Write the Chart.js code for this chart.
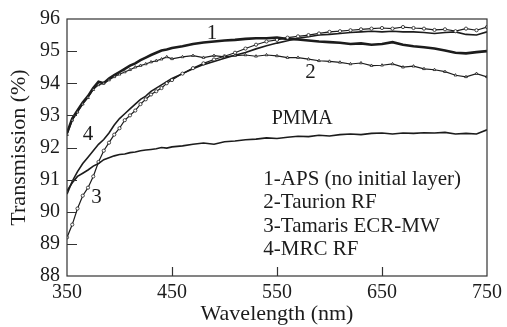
<!DOCTYPE html>
<html>
<head>
<meta charset="utf-8">
<script src="https://cdn.jsdelivr.net/npm/chart.js@4/dist/chart.umd.min.js"></script>
<style>
  html, body { margin: 0; padding: 0; background: #fff; }
  #wrap { width: 507px; height: 327px; }
</style>
</head>
<body>
<div id="wrap"><canvas id="chartTrans"></canvas></div>
<script>
// wavelength grid (nm)
const wavelengths = [350, 355, 360, 365, 370, 375, 380, 385, 390, 395, 400, 405, 410, 415, 420, 425, 430, 435, 440, 445, 450,
  460, 470, 480, 490, 500, 510, 520, 530, 540, 550, 560, 570, 580, 590, 600, 610, 620, 630, 640, 650,
  660, 670, 680, 690, 700, 710, 720, 730, 740, 750];

// 1-APS (no initial layer)
const aps = [92.45, 92.9, 93.15, 93.4, 93.6, 93.85, 94.05, 94.0, 94.15, 94.25, 94.35, 94.45, 94.55, 94.62, 94.72, 94.8, 94.88, 94.95, 95.02, 95.05, 95.1,
  95.15, 95.22, 95.27, 95.3, 95.33, 95.35, 95.38, 95.4, 95.4, 95.42, 95.38, 95.36, 95.33, 95.3, 95.28, 95.26, 95.22, 95.24, 95.2, 95.22,
  95.28, 95.2, 95.15, 95.12, 95.08, 95.02, 94.95, 94.93, 94.97, 95.0];

// 2-Taurion RF
const taurion = [92.4, 92.85, 93.1, 93.35, 93.55, 93.8, 93.95, 94.0, 94.1, 94.2, 94.28, 94.35, 94.42, 94.5, 94.55, 94.6, 94.66, 94.7, 94.75, 94.82, 94.76,
  94.82, 94.86, 94.8, 94.86, 94.82, 94.86, 94.88, 94.84, 94.88, 94.85, 94.8, 94.8, 94.75, 94.7, 94.68, 94.65, 94.6, 94.63, 94.55, 94.56,
  94.6, 94.5, 94.53, 94.45, 94.42, 94.36, 94.25, 94.2, 94.3, 94.2];

// 3-Tamaris ECR-MW
const tamaris = [89.2, 89.6, 90.1, 90.5, 90.75, 91.1, 91.55, 91.9, 92.15, 92.4, 92.6, 92.85, 93.0, 93.15, 93.35, 93.5, 93.65, 93.75, 93.85, 94.0, 94.1,
  94.3, 94.47, 94.62, 94.74, 94.84, 94.95, 95.08, 95.2, 95.3, 95.35, 95.42, 95.46, 95.5, 95.55, 95.6, 95.62, 95.65, 95.68, 95.7, 95.72,
  95.7, 95.75, 95.72, 95.7, 95.66, 95.68, 95.62, 95.7, 95.65, 95.75];

// 4-MRC RF
const mrc = [90.55, 90.95, 91.25, 91.5, 91.7, 91.9, 92.1, 92.25, 92.45, 92.7, 92.9, 93.05, 93.2, 93.35, 93.5, 93.6, 93.75, 93.85, 93.95, 94.05, 94.15,
  94.3, 94.45, 94.58, 94.68, 94.78, 94.87, 94.96, 95.07, 95.17, 95.25, 95.32, 95.4, 95.45, 95.5, 95.52, 95.55, 95.58, 95.6, 95.62, 95.6,
  95.62, 95.6, 95.6, 95.58, 95.55, 95.58, 95.6, 95.52, 95.5, 95.6];

// PMMA
const pmma = [90.65, 90.9, 91.1, 91.2, 91.3, 91.42, 91.5, 91.62, 91.68, 91.74, 91.78, 91.8, 91.84, 91.86, 91.9, 91.92, 91.94, 91.96, 92.0, 91.98, 92.02,
  92.05, 92.1, 92.14, 92.1, 92.18, 92.2, 92.24, 92.26, 92.3, 92.28, 92.32, 92.35, 92.34, 92.38, 92.36, 92.4, 92.42, 92.4, 92.44, 92.45,
  92.42, 92.45, 92.44, 92.46, 92.45, 92.47, 92.42, 92.44, 92.42, 92.55];

const xTicks = [350, 450, 550, 650, 750];
const yTicks = [88, 89, 90, 91, 92, 93, 94, 95, 96];
const legendLines = ['1-APS (no initial layer)', '2-Taurion RF', '3-Tamaris ECR-MW', '4-MRC RF'];

const FONT = '"Liberation Serif", "Times New Roman", serif';
const INK = '#1c1c1c';

const pts = (ys) => wavelengths.map((x, i) => ({ x, y: ys[i] }));

const frame = {
  id: 'frame',
  afterDraw(chart) {
    const { ctx, chartArea: a, scales: { x, y } } = chart;
    ctx.save();
    ctx.strokeStyle = '#333';
    ctx.lineWidth = 1.2;
    ctx.strokeRect(a.left, a.top, a.right - a.left, a.bottom - a.top);
    // inward ticks
    ctx.beginPath();
    yTicks.slice(1, -1).forEach((v) => {
      const py = Math.round(y.getPixelForValue(v)) + 0.5;
      ctx.moveTo(a.left, py);
      ctx.lineTo(a.left + 10, py);
    });
    xTicks.slice(1, -1).forEach((v) => {
      const px = Math.round(x.getPixelForValue(v)) + 0.5;
      ctx.moveTo(px, a.bottom);
      ctx.lineTo(px, a.bottom - 9);
    });
    ctx.stroke();

    ctx.fillStyle = INK;
    ctx.font = `21px ${FONT}`;
    ctx.textAlign = 'center';
    ctx.textBaseline = 'middle';
    const label = (t, wx, wy) => ctx.fillText(t, x.getPixelForValue(wx), y.getPixelForValue(wy));
    label('1', 488, 95.56);
    label('2', 582, 94.32);
    label('3', 378, 90.45);
    label('4', 370, 92.4);
    ctx.font = `20px ${FONT}`;
    label('PMMA', 574, 92.9);

    ctx.textAlign = 'left';
    ctx.font = `21px ${FONT}`;
    legendLines.forEach((t, i) => {
      ctx.fillText(t, x.getPixelForValue(537), 179 + i * 23.5);
    });
    ctx.restore();
  },
};

const line = (data, width, extra) => Object.assign({
  data: pts(data),
  borderColor: INK,
  borderWidth: width,
  pointRadius: 0,
  tension: 0,
  fill: false,
}, extra || {});

const config = {
  type: 'line',
  data: {
    datasets: [
      line(pmma, 1.6),
      line(taurion, 1.2, { pointRadius: 1.6, pointStyle: 'triangle', pointBackgroundColor: '#fff', pointBorderColor: INK, pointBorderWidth: 0.8 }),
      line(tamaris, 1.2, { pointRadius: 1.6, pointStyle: 'circle', pointBackgroundColor: '#fff', pointBorderColor: INK, pointBorderWidth: 0.8 }),
      line(mrc, 1.6),
      line(aps, 2.6),
    ],
  },
  options: {
    responsive: true,
    maintainAspectRatio: false,
    animation: false,
    events: [],
    layout: { padding: { top: 19, right: 16, left: 0, bottom: 0 } },
    plugins: { legend: { display: false }, tooltip: { enabled: false } },
    scales: {
      x: {
        type: 'linear',
        min: 350,
        max: 750,
        afterBuildTicks: (s) => { s.ticks = xTicks.map((v) => ({ value: v })); },
        afterFit: (s) => { s.height = 51; },
        grid: { display: false, drawTicks: false },
        border: { display: false },
        ticks: { color: INK, font: { family: FONT, size: 20 }, padding: 5, maxRotation: 0 },
        title: { display: true, text: 'Wavelength (nm)', color: INK, font: { family: FONT, size: 22 }, padding: { top: 0, bottom: 0 } },
      },
      y: {
        min: 88,
        max: 96,
        afterBuildTicks: (s) => { s.ticks = yTicks.map((v) => ({ value: v })); },
        afterFit: (s) => { s.width = 67; },
        grid: { display: false, drawTicks: false },
        border: { display: false },
        ticks: { color: INK, font: { family: FONT, size: 20 }, padding: 7 },
        title: { display: true, text: 'Transmission (%)', color: INK, font: { family: FONT, size: 22 }, padding: { top: 6, bottom: 0 } },
      },
    },
  },
  plugins: [frame],
};

new Chart(document.querySelector('#chartTrans'), config);
</script>
</body>
</html>
